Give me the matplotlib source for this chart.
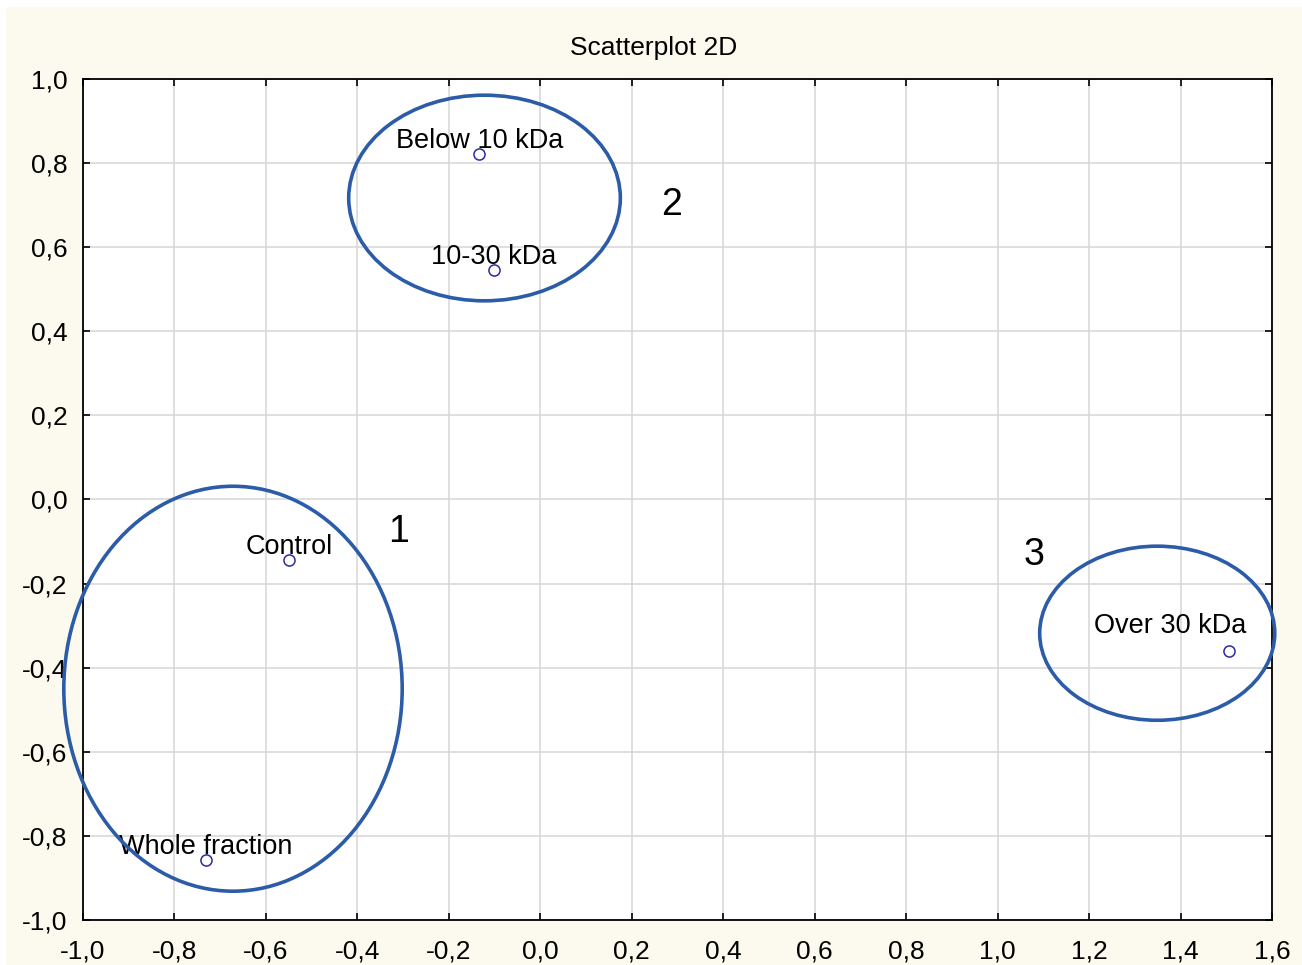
import matplotlib.pyplot as plt
from matplotlib.patches import Ellipse, Rectangle
from matplotlib.ticker import FuncFormatter, MultipleLocator

plt.rcParams['font.family'] = ['Liberation Sans', 'DejaVu Sans']

# Sample scores on the first two components
names = ['Below 10 kDa', '10-30 kDa', 'Control', 'Whole fraction', 'Over 30 kDa']
x_vals = [-0.133, -0.101, -0.549, -0.731, 1.505]
y_vals = [0.822, 0.546, -0.144, -0.857, -0.360]

# Cluster outlines: centre x, centre y, width, height
cluster_ids = ['1', '2', '3']
cluster_cx = [-0.672, -0.122, 1.349]
cluster_cy = [-0.450, 0.717, -0.318]
cluster_w = [0.740, 0.594, 0.514]
cluster_h = [0.963, 0.489, 0.414]
# where each cluster number sits
cluster_lx = [-0.309, 0.287, 1.079]
cluster_ly = [-0.077, 0.700, -0.132]

BG = '#fcfaee'
ELLIPSE_BLUE = '#2c5ca8'
POINT_BLUE = '#2a2aa6'


def comma_fmt(v, pos):
    return ('%.1f' % v).replace('.', ',')


def draw():
    fig = plt.figure(figsize=(13.02, 9.65), dpi=100)
    fig.patch.set_facecolor(BG)
    # thin white border along top and left edges
    fig.patches.append(Rectangle((0, 1 - 7 / 965), 1, 7 / 965, transform=fig.transFigure,
                                 facecolor='white', edgecolor='none', zorder=0))
    fig.patches.append(Rectangle((0, 0), 6 / 1302, 1, transform=fig.transFigure,
                                 facecolor='white', edgecolor='none', zorder=0))

    ax = fig.add_axes([83 / 1302, 45 / 965, 1189 / 1302, 841 / 965])
    ax.set_facecolor('white')
    ax.set_xlim(-1.0, 1.6)
    ax.set_ylim(-1.0, 1.0)
    ax.xaxis.set_major_locator(MultipleLocator(0.2))
    ax.yaxis.set_major_locator(MultipleLocator(0.2))
    ax.xaxis.set_major_formatter(FuncFormatter(comma_fmt))
    ax.yaxis.set_major_formatter(FuncFormatter(comma_fmt))
    ax.tick_params(direction='in', length=5, width=1.2, top=True, right=True,
                   labelsize=19, colors='black')
    ax.tick_params(axis='x', pad=14)
    ax.tick_params(axis='y', pad=11)
    ax.grid(True, color='#d6d6d6', linewidth=1.1)
    ax.set_axisbelow(True)
    for s in ax.spines.values():
        s.set_linewidth(1.3)

    ax.set_title('Scatterplot 2D', fontsize=19, x=0.48, pad=17)

    ax.plot(x_vals, y_vals, linestyle='none', marker='o', markersize=8,
            markerfacecolor='none', markeredgecolor=POINT_BLUE, markeredgewidth=1.1, zorder=4)

    for i, name in enumerate(names):
        if name == 'Over 30 kDa':
            off = (-42, 13)
        else:
            off = (0, 4)
        ax.annotate(name, (x_vals[i], y_vals[i]), xytext=off, textcoords='offset points',
                    ha='center', va='baseline', fontsize=19.5, zorder=5)

    for i in range(len(cluster_ids)):
        e = Ellipse((cluster_cx[i], cluster_cy[i]), cluster_w[i], cluster_h[i],
                    fill=False, edgecolor=ELLIPSE_BLUE, linewidth=2.6, clip_on=False, zorder=6)
        ax.add_patch(e)
        ax.text(cluster_lx[i], cluster_ly[i], cluster_ids[i], fontsize=27,
                ha='center', va='center', zorder=5)

    fig.savefig('out.png', dpi=100, facecolor=fig.get_facecolor())
    plt.close(fig)


if __name__ == "__main__":
    draw()
